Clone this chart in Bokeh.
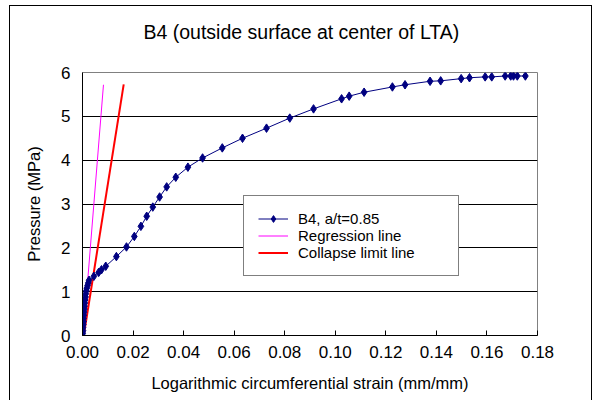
from bokeh.plotting import figure
from bokeh.models import Legend, LegendItem, Range1d, NumeralTickFormatter, Title
from bokeh.embed import file_html
from bokeh.resources import INLINE

# Measured series B4, a/t=0.85
strain = [0.0000, 0.0001, 0.0002, 0.0002, 0.0003, 0.0004, 0.0004, 0.0005, 0.0006,
          0.0007, 0.0008, 0.0009, 0.0010, 0.0012, 0.0013, 0.0015, 0.0017, 0.0020,
          0.0023, 0.0026, 0.0045, 0.0064, 0.0075, 0.0092, 0.0134, 0.0174, 0.0205,
          0.0231, 0.0254, 0.0278, 0.0305, 0.0333, 0.0369, 0.0417, 0.0475, 0.0553,
          0.0633, 0.0728, 0.0820, 0.0914, 0.1025, 0.1055, 0.1114, 0.1226, 0.1276,
          0.1375, 0.1417, 0.1498, 0.1531, 0.1593, 0.1619, 0.1672, 0.1694, 0.1705,
          0.1720, 0.1752]
pressure = [0.00, 0.05, 0.11, 0.18, 0.25, 0.32, 0.39, 0.46, 0.53,
            0.60, 0.67, 0.74, 0.81, 0.88, 0.95, 1.02, 1.08, 1.14,
            1.20, 1.26, 1.35, 1.44, 1.50, 1.58, 1.80, 2.02, 2.26,
            2.49, 2.72, 2.93, 3.16, 3.39, 3.61, 3.84, 4.05, 4.28,
            4.50, 4.73, 4.96, 5.17, 5.40, 5.46, 5.55, 5.67, 5.72,
            5.80, 5.81, 5.86, 5.88, 5.90, 5.90, 5.92, 5.92, 5.92,
            5.92, 5.92]

# Regression line
reg_strain = [0.0003, 0.0083]
reg_pressure = [0.0, 5.72]

# Collapse limit line
col_strain = [0.0005, 0.0163]
col_pressure = [0.0, 5.73]

x_ticks = [0.00, 0.02, 0.04, 0.06, 0.08, 0.10, 0.12, 0.14, 0.16, 0.18]
y_ticks = [0, 1, 2, 3, 4, 5, 6]
title_text = "B4 (outside surface at center of LTA)"

FONT = "Liberation Sans"

p = figure(width=583, height=395, x_range=Range1d(0, 0.18), y_range=Range1d(0, 6),
           output_backend="svg", toolbar_location=None, title=title_text,
           min_border_left=72, min_border_right=56, min_border_top=66, min_border_bottom=66)
p.margin = (5, 0, 0, 9)
p.styles = {"border-top": "1px solid black", "border-left": "1px solid black",
            "border-right": "1px solid black"}

# real title (outermost); a thin spacer panel sits between it and the frame
p.title.align = "left"
p.title.offset = 61
p.title.standoff = 0
p.title.text_font = FONT
p.title.text_font_size = "19.5px"
p.title.text_font_style = "normal"
p.title.text_color = "black"
p.add_layout(Title(text=" ", text_font_size="1px", standoff=27), "above")

p.outline_line_color = "#808080"
p.outline_line_width = 1
p.background_fill_color = "white"
p.border_fill_color = "white"

p.xgrid.grid_line_color = None
p.ygrid.grid_line_color = "black"
p.ygrid.grid_line_width = 1
p.ygrid.ticker = y_ticks

p.xaxis.ticker = x_ticks
p.xaxis.formatter = NumeralTickFormatter(format="0.00")
p.yaxis.ticker = y_ticks
for ax in (p.xaxis, p.yaxis):
    ax.axis_line_color = "black"
    ax.axis_line_width = 1
    ax.major_label_text_font = FONT
    ax.major_label_text_font_size = "17px"
    ax.major_label_text_color = "black"
    ax.axis_label_text_font = FONT
    ax.axis_label_text_font_size = "16.5px"
    ax.axis_label_text_font_style = "normal"
    ax.axis_label_text_color = "black"
    ax.minor_tick_line_color = None
    ax.major_tick_line_color = "black"

p.xaxis.major_tick_in = 5
p.xaxis.major_tick_out = 0
p.xaxis.major_label_standoff = 10
p.xaxis.axis_label = "Logarithmic circumferential strain (mm/mm)"
p.xaxis.axis_label_standoff = 13

p.yaxis.major_tick_in = 0
p.yaxis.major_tick_out = 0
p.yaxis.major_label_standoff = 12
p.yaxis.axis_label = "Pressure (MPa)"
p.yaxis.axis_label_standoff = 15

reg_r = p.line(reg_strain, reg_pressure, line_color="#FF00FF", line_width=1)
col_r = p.line(col_strain, col_pressure, line_color="#FF0000", line_width=2)
b4_line = p.line(strain, pressure, line_color="#000080", line_width=1)
b4_pts = p.scatter(strain, pressure, marker="diamond", size=8.5,
                   fill_color="#000080", line_color="#000080")

legend = Legend(items=[
    LegendItem(label="B4, a/t=0.85", renderers=[b4_line, b4_pts]),
    LegendItem(label="Regression line", renderers=[reg_r]),
    LegendItem(label="Collapse limit line", renderers=[col_r]),
], location=(161, 59))
legend.border_line_color = "black"
legend.border_line_width = 1
legend.background_fill_color = "white"
legend.background_fill_alpha = 1
legend.label_text_font = FONT
legend.label_text_font_size = "15px"
legend.label_text_color = "black"
legend.padding = 14
legend.spacing = 0
legend.label_height = 17
legend.glyph_height = 17
legend.glyph_width = 30
legend.label_standoff = 10
legend.margin = 0
legend.label_width = 146
p.add_layout(legend, "center")

open("out.html", "w").write(file_html(p, INLINE))
